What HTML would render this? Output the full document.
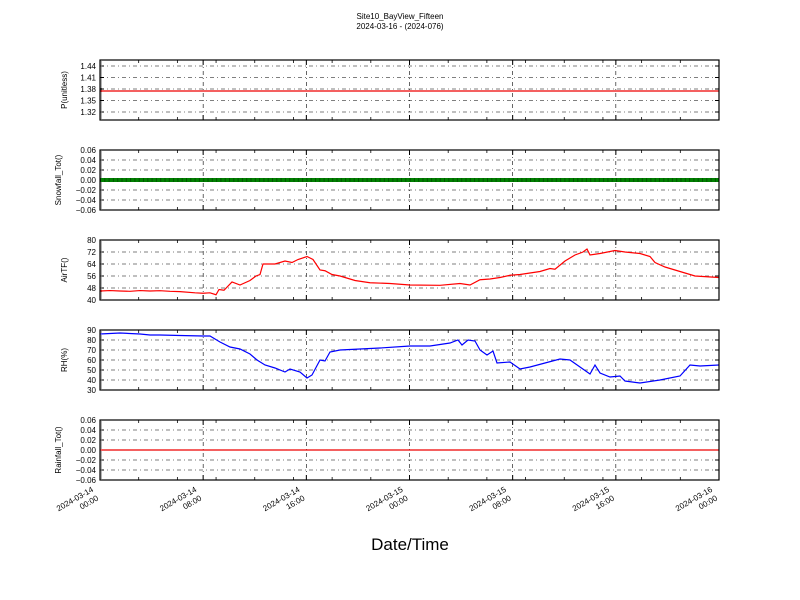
<!DOCTYPE html>
<html><head><meta charset="utf-8"><style>
html,body{margin:0;padding:0;background:#fff;}
svg{display:block;font-family:"Liberation Sans","DejaVu Sans",sans-serif;}
</style></head><body>
<svg id="s" width="800" height="600" viewBox="0 0 800 600" xmlns="http://www.w3.org/2000/svg">
<rect width="800" height="600" fill="#fff"/>
<text x="400" y="19" font-size="8" text-anchor="middle">Site10_BayView_Fifteen</text>
<text x="400" y="29" font-size="8" text-anchor="middle">2024-03-16 - (2024-076)</text>
<text x="410" y="550" font-size="17" text-anchor="middle">Date/Time</text>
</svg>
<script>
const s=document.getElementById('s');const NS='http://www.w3.org/2000/svg';
function el(t,a,txt){const e=document.createElementNS(NS,t);for(const k in a)e.setAttribute(k,a[k]);if(txt!==undefined)e.textContent=txt;s.appendChild(e);return e;}
const X0=100,X1=719,W=X1-X0;
const panels=[
 {y0:60,lab:'P(unitless)',ticks:[[1.32,'1.32'],[1.35,'1.35'],[1.38,'1.38'],[1.41,'1.41'],[1.44,'1.44']],map:v=>112-(v-1.32)/0.03*11.5},
 {y0:150,lab:'Snowfall_Tot()',ticks:[-0.06,-0.04,-0.02,0,0.02,0.04,0.06].map(v=>[v,(v<0?'\u22120.0':'0.0')+Math.round(Math.abs(v)*100)]),map:v=>180-v/0.02*10},
 {y0:240,lab:'AirTF()',ticks:[40,48,56,64,72,80].map(v=>[v,''+v]),map:v=>300-(v-40)*1.5},
 {y0:330,lab:'RH(%)',ticks:[30,40,50,60,70,80,90].map(v=>[v,''+v]),map:v=>390-(v-30)},
 {y0:420,lab:'Rainfall_Tot()',ticks:[-0.06,-0.04,-0.02,0,0.02,0.04,0.06].map(v=>[v,(v<0?'\u22120.0':'0.0')+Math.round(Math.abs(v)*100)]),map:v=>450-v/0.02*10}
];
const dash='4,3,1,3';
panels.forEach((p,i)=>{
 const y0=p.y0,y1=y0+60;
 p.ticks.forEach(([v,t])=>{const y=p.map(v);
  if(y>y0+1&&y<y1-1)el('line',{x1:X0,x2:X1,y1:y,y2:y,stroke:'#000','stroke-width':0.6,'stroke-dasharray':dash});
  el('line',{x1:X0,x2:X0+4,y1:y,y2:y,stroke:'#000','stroke-width':1});
  el('line',{x1:X1-4,x2:X1,y1:y,y2:y,stroke:'#000','stroke-width':1});
  el('text',{x:X0-4,y:y+3,'font-size':8,'text-anchor':'end'},t);
 });
 for(let k=0;k<=30;k++){const y=y0+k*2;el('line',{x1:X0,x2:X0+2,y1:y,y2:y,stroke:'#000','stroke-width':0.6});}
 for(let h=8;h<48;h+=8){const x=X0+h*W/48;
  el('line',{x1:x,x2:x,y1:y0,y2:y1,stroke:'#000','stroke-width':0.6,'stroke-dasharray':dash});
 }
 for(let h=0;h<=48;h++){const x=X0+h*W/48;
  if(h%8===0){el('line',{x1:x,x2:x,y1:y1,y2:y1-5,stroke:'#000','stroke-width':1});el('line',{x1:x,x2:x,y1:y0,y2:y0+5,stroke:'#000','stroke-width':1});}
  else if(h%3===0){el('line',{x1:x,x2:x,y1:y1,y2:y1-3,stroke:'#000','stroke-width':0.8});el('line',{x1:x,x2:x,y1:y0,y2:y0+3,stroke:'#000','stroke-width':0.8});}
 }
 const cy=y0+30;
 el('text',{x:0,y:0,'font-size':8,'text-anchor':'middle',transform:`translate(${i==1||i==4?61:67},${cy}) rotate(-90)`},p.lab);
});
el('line',{x1:X0,x2:X1,y1:91,y2:91,stroke:'#e00','stroke-width':1.2});
el('line',{x1:X0,x2:X1,y1:180,y2:180,stroke:'#008000','stroke-width':4});
for(let x=X0;x<X1;x+=4.3)el('line',{x1:x,x2:x+1,y1:180,y2:180,stroke:'#005500','stroke-width':4});
el('line',{x1:X0,x2:X1,y1:450,y2:450,stroke:'#e00','stroke-width':1.2});
const T=[[100,46],[110,46.3],[120,46],[130,45.8],[140,46.3],[150,46],[160,46.2],[170,45.8],[180,45.6],[195,44.8],[203,44.5],[210,44.8],[216,43.5],[219,47],[224,46.5],[232,52],[240,50],[250,53],[256,56],[260,57],[263,64],[275,64],[285,66],[292,65],[298,67],[307,69],[313,67],[320,60],[325,59.5],[332,57],[340,56],[355,53],[370,51.5],[390,51],[410,50],[440,49.8],[460,51],[470,50],[480,53.5],[490,54],[500,55],[510,56.5],[520,57],[530,58],[540,59],[550,61],[555,60.5],[565,66],[575,70],[583,72],[587,74],[590,70],[600,71],[615,73],[625,72],[640,71],[650,69],[655,65],[665,62],[680,59],[695,56],[719,55]];
el('polyline',{points:T.map(([x,v])=>x+','+panels[2].map(v)).join(' '),fill:'none',stroke:'#f00','stroke-width':1.2});
const R=[[100,86],[120,87],[140,86],[150,85],[160,85],[180,84.5],[203,84],[210,84],[220,78],[230,73],[240,71],[250,66],[257,60],[265,55],[275,52],[285,48],[290,51],[300,48],[307,42],[312,45],[320,60],[325,59],[330,68],[340,70],[360,71],[380,72],[410,74],[430,74],[450,77],[458,80],[462,75],[468,80],[475,79],[480,70],[487,65],[493,69],[497,57],[510,58],[520,51],[530,53],[545,57],[560,61],[570,60],[580,53],[590,46],[595,55],[600,47],[610,43],[620,44],[625,39],[640,37],[660,40],[680,44],[690,55],[700,54],[719,55]];
el('polyline',{points:R.map(([x,v])=>x+','+panels[3].map(v)).join(' '),fill:'none',stroke:'#00f','stroke-width':1.2});
panels.forEach(p=>el('rect',{x:X0,y:p.y0,width:W,height:60,fill:'none',stroke:'#000','stroke-width':1.2}));
const L=[['2024-03-14','00:00'],['2024-03-14','08:00'],['2024-03-14','16:00'],['2024-03-15','00:00'],['2024-03-15','08:00'],['2024-03-15','16:00'],['2024-03-16','00:00']];
L.forEach((l,k)=>{const x=X0+k*W/6;
 const t=el('text',{'font-size':8,'text-anchor':'end',transform:`translate(${x-6},${491}) rotate(-30)`});
 const a=document.createElementNS(NS,'tspan');a.setAttribute('x',0);a.setAttribute('y',0);a.textContent=l[0];t.appendChild(a);
 const b=document.createElementNS(NS,'tspan');b.setAttribute('x',0);b.setAttribute('y',10);b.textContent=l[1];t.appendChild(b);
});
</script>
</body></html>
